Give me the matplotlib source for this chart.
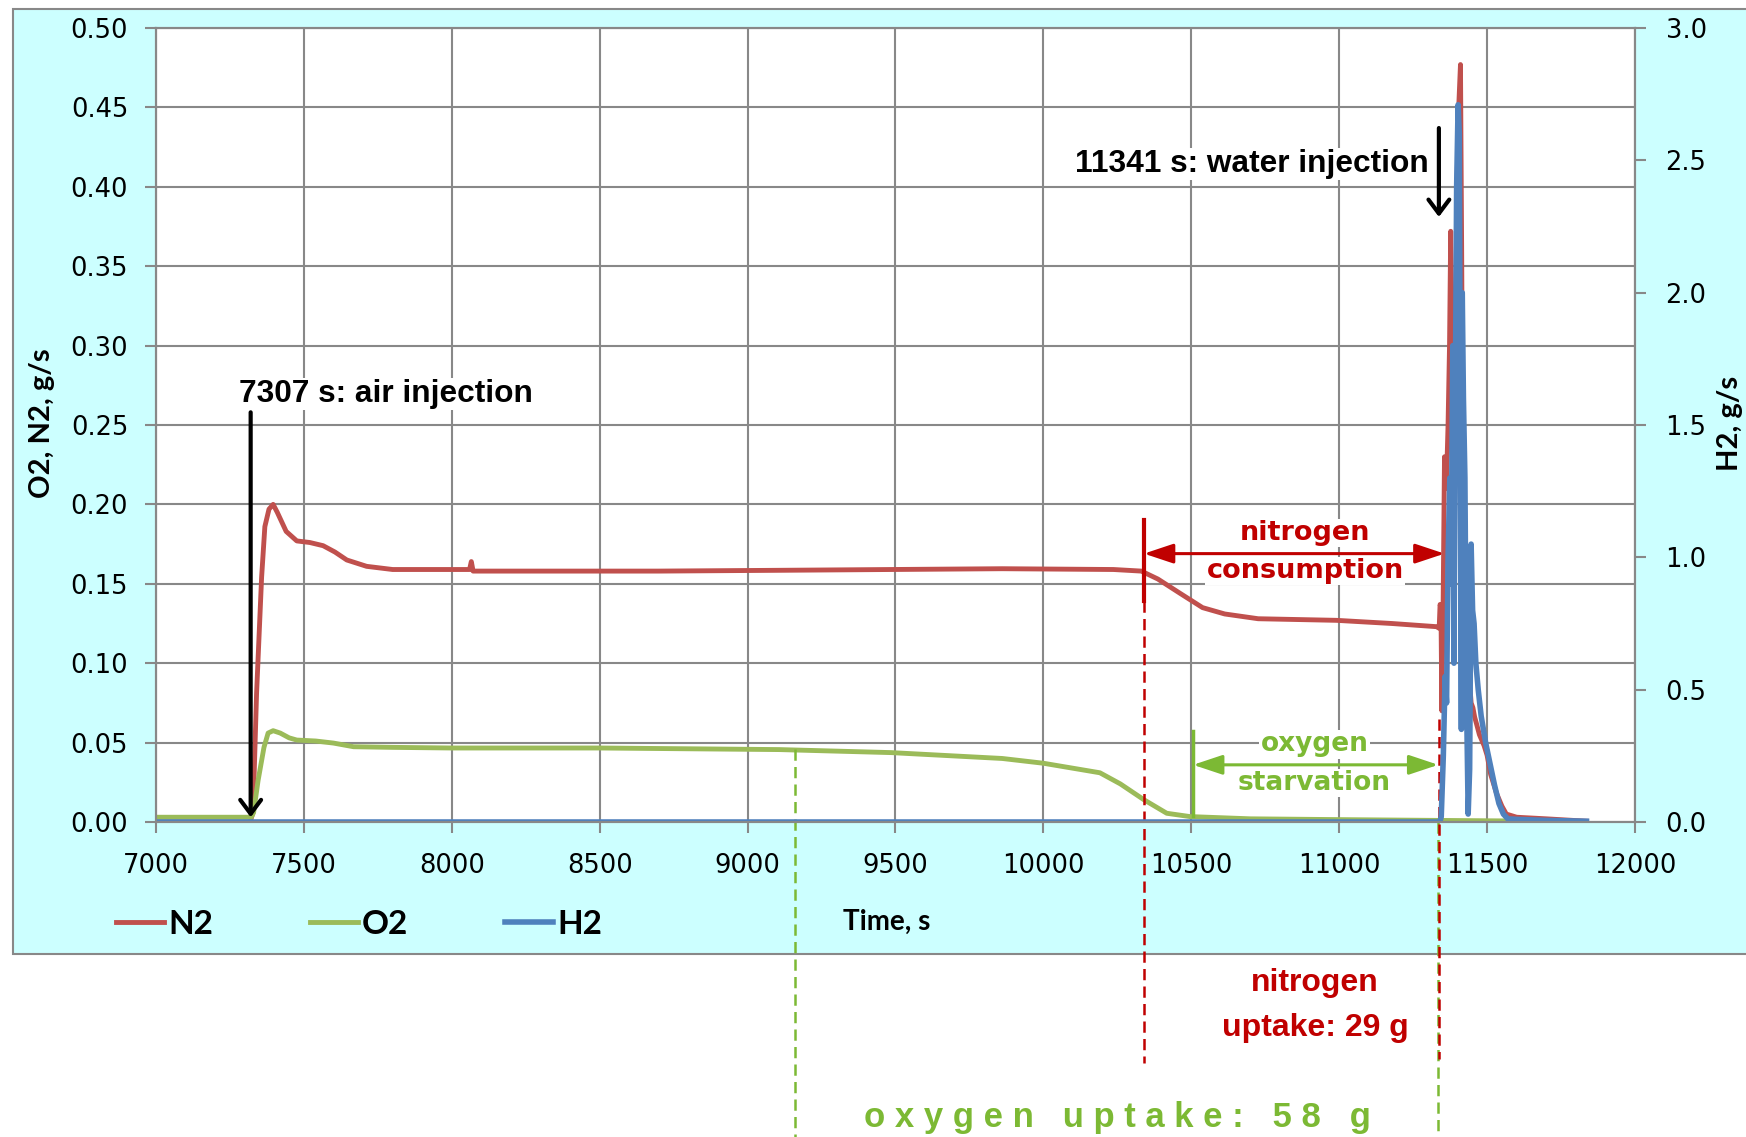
import numpy as np
import matplotlib.pyplot as plt
from matplotlib.patches import Rectangle

W, H = 1746, 1137

n2_time = [7000, 7318, 7328, 7340, 7357, 7368, 7382, 7396, 7410, 7440, 7476, 7520, 7565, 7605, 7645,
           7712, 7800, 7979, 8060, 8066, 8072, 8200, 8355, 8700, 9108, 9485, 9861, 10237, 10331, 10387,
           10462, 10538, 10613, 10726, 10990, 11178, 11329, 11338, 11341, 11344, 11347, 11351, 11356,
           11362, 11368, 11373, 11377, 11382, 11388, 11393, 11398, 11404, 11410, 11414, 11418, 11422,
           11428, 11434, 11440, 11446, 11452, 11458, 11464, 11474, 11490, 11500, 11512, 11532, 11550,
           11565, 11600, 11700, 11836]
n2_flow = [0.0, 0.0, 0.006, 0.081, 0.154, 0.186, 0.197, 0.200, 0.195, 0.183, 0.177, 0.176, 0.174, 0.170,
           0.165, 0.161, 0.159, 0.159, 0.159, 0.164, 0.158, 0.158, 0.158, 0.158, 0.1585, 0.159, 0.1595,
           0.159, 0.158, 0.153, 0.144, 0.135, 0.131, 0.128, 0.127, 0.125, 0.123, 0.122, 0.137, 0.135,
           0.07, 0.13, 0.23, 0.21, 0.25, 0.30, 0.372, 0.24, 0.13, 0.30, 0.40, 0.45, 0.477, 0.36, 0.22,
           0.10, 0.08, 0.12, 0.09, 0.075, 0.072, 0.066, 0.062, 0.055, 0.048, 0.042, 0.030, 0.018, 0.010,
           0.005, 0.003, 0.002, 0.0005]

o2_time = [7000, 7322, 7330, 7345, 7365, 7379, 7396, 7420, 7450, 7476, 7540, 7600, 7668, 7800, 8000,
           8500, 9108, 9485, 9861, 10000, 10191, 10260, 10340, 10417, 10496, 10700, 11000, 11336, 11836]
o2_flow = [0.003, 0.003, 0.006, 0.026, 0.047, 0.056, 0.0575, 0.056, 0.053, 0.0516, 0.051, 0.0497, 0.0474,
           0.047, 0.0466, 0.0466, 0.0456, 0.0437, 0.040, 0.037, 0.031, 0.024, 0.014, 0.0055, 0.0034,
           0.002, 0.0015, 0.001, 0.0003]

h2_time = [7000, 11340, 11345, 11352, 11358, 11363, 11368, 11374, 11378, 11384, 11388, 11392, 11397,
           11402, 11406, 11410, 11413, 11416, 11420, 11425, 11430, 11436, 11441, 11446, 11451, 11456,
           11462, 11470, 11480, 11495, 11510, 11525, 11540, 11555, 11570, 11600, 11700, 11836]
h2_flow = [0.0, 0.0, 0.02, 0.25, 0.55, 0.45, 1.0, 1.3, 0.9, 1.8, 0.6, 1.5, 2.4, 2.71, 2.6, 1.2, 0.35, 2.0,
           1.6, 1.3, 0.5, 0.03, 0.2, 1.05, 0.8, 0.75, 0.6, 0.5, 0.4, 0.3, 0.22, 0.14, 0.07, 0.03, 0.012,
           0.01, 0.006, 0.003]

x_ticks = list(range(7000, 12001, 500))
left_ticks = [0.00, 0.05, 0.10, 0.15, 0.20, 0.25, 0.30, 0.35, 0.40, 0.45, 0.50]
right_ticks = [0.0, 0.5, 1.0, 1.5, 2.0, 2.5, 3.0]

RED = '#C0504D'
GREEN = '#9BBB59'
BLUE = '#4F81BD'
DARK_RED = '#C00000'
LIGHT_GREEN = '#7CB934'
GRID = '#888888'

ARIAL = ['Liberation Sans', 'DejaVu Sans']
CALIBRI = ['Lato', 'DejaVu Sans']

fig = plt.figure(figsize=(W / 100, H / 100), dpi=100)
fig.patches.append(Rectangle((13 / W, 1 - 954 / H), 1.0, 945 / H, transform=fig.transFigure,
                             facecolor='#CCFFFF', edgecolor=GRID, lw=1.5, zorder=-1))

ax = fig.add_axes([156 / W, 1 - 822 / H, 1479 / W, 794 / H])
ax.set_facecolor('white')
ax2 = ax.twinx()

l1, = ax.plot(n2_time, n2_flow, color=RED, lw=3.5, label='N2', solid_joinstyle='round')
l2, = ax.plot(o2_time, o2_flow, color=GREEN, lw=3.5, label='O2', solid_joinstyle='round')
l3, = ax2.plot(h2_time, h2_flow, color=BLUE, lw=4, label='H2', solid_joinstyle='round')

ax.set_xlim(7000, 12000)
ax.set_ylim(0, 0.5)
ax2.set_ylim(0, 3)
ax.set_xticks(x_ticks)
ax.set_xticklabels([str(t) for t in x_ticks])
ax.set_yticks(left_ticks)
ax.set_yticklabels([f'{v:.2f}' for v in left_ticks])
ax2.set_yticks(right_ticks)
ax2.set_yticklabels([f'{v:.1f}' for v in right_ticks])

ax.grid(True, color=GRID, lw=1.5)
ax.set_axisbelow(True)
for a in (ax, ax2):
    for s in a.spines.values():
        s.set_color(GRID)
        s.set_linewidth(1.5)
ax.tick_params(axis='x', direction='out', length=8, width=1.5, color=GRID, labelsize=18.5, pad=14)
ax.tick_params(axis='y', direction='out', length=8, width=1.5, color=GRID, labelsize=18.5, pad=12)
ax2.tick_params(axis='y', direction='out', length=8, width=1.5, color=GRID, labelsize=18.5, pad=14)

fig.text(42 / W, 1 - 423 / H, 'O2, N2, g/s', rotation=90, ha='center', va='center',
         family=CALIBRI, weight='bold', fontsize=21)
fig.text(1730 / W, 1 - 423 / H, 'H2, g/s', rotation=90, ha='center', va='center',
         family=CALIBRI, weight='bold', fontsize=21)
fig.text(887 / W, 1 - 922 / H, 'Time, s', ha='center', va='center',
         family=CALIBRI, weight='bold', fontsize=20)

fig.legend([l1, l2, l3], ['N2', 'O2', 'H2'], loc='center left', bbox_to_anchor=(116 / W, 1 - 924 / H),
           ncol=3, frameon=False, handlelength=1.45, handletextpad=0.12, columnspacing=2.9,
           borderaxespad=0, borderpad=0, prop=dict(family=CALIBRI, weight='bold', size=24))

box = dict(facecolor='white', edgecolor='none', pad=1)

# injection arrows
ax.annotate('', xy=(7320, 0.003), xytext=(7320, 0.258),
            arrowprops=dict(arrowstyle='->,head_length=0.4,head_width=0.3', color='black', lw=3,
                            mutation_scale=25, shrinkA=0, shrinkB=0))
ax.text(7282, 0.2695, '7307 s: air injection', ha='left', va='center', family=ARIAL,
        weight='bold', fontsize=22.8, bbox=box)
ax.annotate('', xy=(11337, 0.381), xytext=(11337, 0.437),
            arrowprops=dict(arrowstyle='->,head_length=0.4,head_width=0.3', color='black', lw=3,
                            mutation_scale=25, shrinkA=0, shrinkB=0))
ax.text(11302, 0.4145, '11341 s: water injection', ha='right', va='center', family=ARIAL,
        weight='bold', fontsize=22.8, bbox=box)

# nitrogen consumption
ax.plot([10340, 10340], [0.139, 0.19], color=DARK_RED, lw=3)
ax.annotate('', xy=(11356, 0.169), xytext=(10340, 0.169),
            arrowprops=dict(arrowstyle='<|-|>,head_length=0.75,head_width=0.25', color=DARK_RED,
                            lw=2.2, mutation_scale=24, shrinkA=0, shrinkB=0))
ax.text(10886, 0.182, 'nitrogen', ha='center', va='center', color=DARK_RED, weight='bold',
        fontsize=19.5, bbox=box)
ax.text(10886, 0.158, 'consumption', ha='center', va='center', color=DARK_RED, weight='bold',
        fontsize=19.5, bbox=box)

# oxygen starvation
ax.plot([10506, 10506], [0.004, 0.057], color=LIGHT_GREEN, lw=2.5)
ax.annotate('', xy=(11335, 0.036), xytext=(10506, 0.036),
            arrowprops=dict(arrowstyle='<|-|>,head_length=0.75,head_width=0.25', color=LIGHT_GREEN,
                            lw=2.2, mutation_scale=24, shrinkA=0, shrinkB=0))
ax.text(10916, 0.049, 'oxygen', ha='center', va='center', color=LIGHT_GREEN, weight='bold',
        fontsize=19, bbox=box)
ax.text(10916, 0.0245, 'starvation', ha='center', va='center', color=LIGHT_GREEN, weight='bold',
        fontsize=19, bbox=box)

# uptake brackets below the chart
dash = (0, (4.5, 2.5))
ax.plot([9161, 9161], [0.046, -0.2], color=LIGHT_GREEN, lw=1.8, ls=dash, clip_on=False)
ax.plot([11335, 11335], [0.0, -0.2], color=LIGHT_GREEN, lw=1.8, ls=dash, clip_on=False)
ax.plot([10340, 10340], [0.139, -0.152], color=DARK_RED, lw=1.8, ls=dash, clip_on=False)
ax.plot([11338, 11338], [0.065, -0.149], color=DARK_RED, lw=1.8, ls=dash, clip_on=False)

ax.text(10918, -0.1014, 'nitrogen', ha='center', va='center', color=DARK_RED, family=ARIAL,
        weight='bold', fontsize=23, clip_on=False)
ax.text(10918, -0.1297, 'uptake: 29 g', ha='center', va='center', color=DARK_RED, family=ARIAL,
        weight='bold', fontsize=23, clip_on=False)
ax.text(10249, -0.1858, 'o x y g e n   u p t a k e :   5 8   g', ha='center', va='center',
        color=LIGHT_GREEN, family=ARIAL, weight='bold', fontsize=25, clip_on=False)

fig.savefig('out.png', dpi=100)
